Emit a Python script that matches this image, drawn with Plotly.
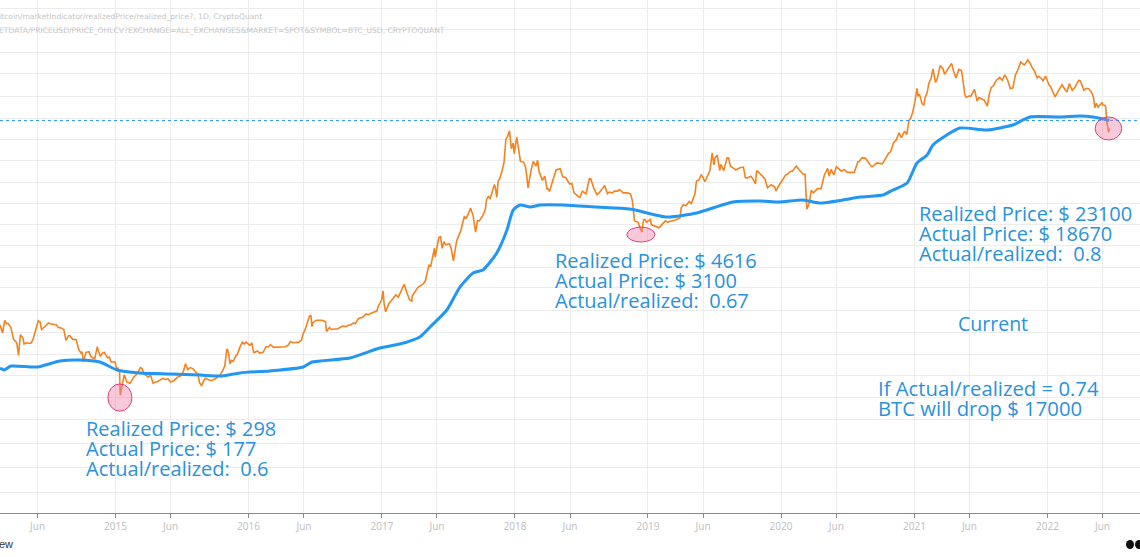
import plotly.graph_objects as go

# ---------------- data ----------------
price_dates = [
    "2014-02-18","2014-02-25","2014-03-03","2014-03-12","2014-03-20","2014-03-27","2014-04-03","2014-04-10",
    "2014-04-15","2014-04-22","2014-05-01","2014-05-10","2014-05-21","2014-05-28","2014-06-03","2014-06-12",
    "2014-06-20","2014-07-01","2014-07-15","2014-07-28","2014-08-05","2014-08-18","2014-08-25","2014-09-05",
    "2014-09-15","2014-09-22","2014-10-01","2014-10-05","2014-10-12","2014-10-20","2014-10-30","2014-11-05",
    "2014-11-12","2014-11-20","2014-12-01","2014-12-10","2014-12-20","2014-12-31",
    "2015-01-05","2015-01-10","2015-01-14","2015-01-18","2015-01-25","2015-02-01","2015-02-10","2015-02-20",
    "2015-03-01","2015-03-10","2015-03-20","2015-04-01","2015-04-14","2015-04-25","2015-05-10","2015-05-25",
    "2015-06-10","2015-06-20","2015-07-01","2015-07-12","2015-07-25","2015-08-10","2015-08-19","2015-08-25",
    "2015-09-05","2015-09-20","2015-10-01","2015-10-15","2015-10-28","2015-11-04","2015-11-11","2015-11-20",
    "2015-12-01","2015-12-15","2015-12-25",
    "2016-01-05","2016-01-15","2016-01-25","2016-02-10","2016-02-25","2016-03-10","2016-03-25","2016-04-10",
    "2016-04-25","2016-05-10","2016-05-25","2016-06-05","2016-06-16","2016-06-25","2016-07-05","2016-07-20",
    "2016-08-02","2016-08-15","2016-09-01","2016-09-15","2016-10-01","2016-10-15","2016-10-28","2016-11-10",
    "2016-11-25","2016-12-10","2016-12-22","2016-12-31",
    "2017-01-04","2017-01-11","2017-01-20","2017-02-01","2017-02-15","2017-02-28","2017-03-10","2017-03-18",
    "2017-03-25","2017-04-10","2017-04-25","2017-05-05","2017-05-15","2017-05-25","2017-05-27","2017-06-06",
    "2017-06-15","2017-06-25","2017-07-05","2017-07-16","2017-07-25","2017-08-05","2017-08-15","2017-08-25",
    "2017-09-01","2017-09-15","2017-09-25","2017-10-05","2017-10-15","2017-10-25","2017-11-05","2017-11-12",
    "2017-11-20","2017-11-29","2017-12-07","2017-12-17","2017-12-22","2017-12-30",
    "2018-01-06","2018-01-16","2018-01-25","2018-02-06","2018-02-14","2018-02-20","2018-03-04","2018-03-17",
    "2018-03-30","2018-04-06","2018-04-24","2018-05-05","2018-05-20","2018-05-31","2018-06-12","2018-06-24",
    "2018-07-05","2018-07-24","2018-08-05","2018-08-14","2018-08-25","2018-09-04","2018-09-12","2018-09-25",
    "2018-10-10","2018-10-25","2018-11-05","2018-11-14","2018-11-19","2018-11-25","2018-12-05","2018-12-15",
    "2018-12-20","2018-12-28",
    "2019-01-08","2019-01-20","2019-01-31","2019-02-08","2019-02-18","2019-03-01","2019-03-15","2019-03-30",
    "2019-04-02","2019-04-15","2019-04-30","2019-05-10","2019-05-14","2019-05-20","2019-05-27","2019-06-06",
    "2019-06-15","2019-06-26","2019-07-01","2019-07-10","2019-07-17","2019-07-28","2019-08-06","2019-08-15",
    "2019-08-28","2019-09-10","2019-09-25","2019-10-10","2019-10-23","2019-10-26","2019-11-08","2019-11-25",
    "2019-12-05","2019-12-18","2019-12-25",
    "2020-01-07","2020-01-18","2020-02-01","2020-02-12","2020-02-25","2020-03-07","2020-03-12","2020-03-18",
    "2020-03-30","2020-04-10","2020-04-29","2020-05-08","2020-05-12","2020-05-25","2020-06-01","2020-06-15",
    "2020-07-01","2020-07-20","2020-07-30","2020-08-10","2020-08-20","2020-09-05","2020-09-20","2020-10-05",
    "2020-10-22","2020-11-05","2020-11-20","2020-11-26","2020-12-05","2020-12-17","2020-12-27",
    "2021-01-08","2021-01-15","2021-01-22","2021-01-30","2021-02-10","2021-02-21","2021-02-28","2021-03-13",
    "2021-03-25","2021-04-13","2021-04-25","2021-05-10","2021-05-19","2021-05-30","2021-06-10","2021-06-22",
    "2021-07-05","2021-07-20","2021-07-31","2021-08-14","2021-08-23","2021-09-06","2021-09-21","2021-10-05",
    "2021-10-20","2021-10-30","2021-11-08","2021-11-20","2021-12-04","2021-12-15","2021-12-27",
    "2022-01-05","2022-01-22","2022-02-10","2022-02-24","2022-03-10","2022-03-28","2022-04-11","2022-04-25",
    "2022-05-05","2022-05-11","2022-05-20","2022-05-31","2022-06-08","2022-06-13","2022-06-18","2022-06-20",
]
price_values = [
    620,535,670,635,590,480,450,360,
    520,490,450,445,490,580,665,570,
    595,640,620,590,585,470,510,480,
    475,400,385,320,380,385,345,340,
    420,355,380,345,320,320,
    275,275,178,210,255,225,220,245,
    260,290,260,245,220,225,240,238,
    230,245,258,310,290,265,225,210,
    240,230,237,255,300,400,310,325,
    365,455,455,
    430,380,390,380,420,415,420,420,
    460,455,470,575,720,640,670,670,
    550,570,575,605,615,640,690,710,
    740,770,860,960,
    1130,780,900,990,1010,1190,1100,960,
    1030,1200,1280,1550,1750,2400,2050,2900,
    2400,2550,2600,1920,2750,3250,4200,4350,
    4900,3200,3900,4300,5700,5800,7400,5900,
    8200,10000,16500,19200,14000,12800,
    17100,11200,11000,7000,9500,11200,11400,8000,
    6800,6600,9600,9800,8400,7500,6400,6000,
    6600,8200,7000,6200,6700,7300,6300,6400,
    6600,6400,6400,6300,5600,3900,3800,3200,
    4000,3800,
    4000,3550,3450,3650,3900,3850,3950,4100,
    4900,5100,5300,6300,7900,8000,8800,7800,
    8800,13000,10500,12500,9500,9500,11900,10300,
    9700,10000,8400,8600,7500,9500,8800,7000,
    7400,6600,7200,
    8100,8900,9400,10300,9300,8900,4800,5300,
    6400,6900,8800,9900,8600,8800,10200,9400,
    9200,9200,11100,11900,11800,10200,10900,10700,
    12900,15600,18600,17000,19100,23000,26500,
    40700,36800,31000,34300,44800,57500,45200,61200,
    52300,63500,49000,55800,37000,35600,37400,32500,
    33800,29800,41500,47100,49500,51800,40600,51500,
    65000,61800,67500,59000,49000,48800,50700,
    43500,35000,43600,38300,39400,47100,39500,40400,
    36500,28900,29200,31700,30200,22500,18670,20000,
]

# additional intermediate daily closes (read between the points above)
price_dates_extra = [
    "2014-03-08","2014-04-05","2014-04-25","2014-05-15","2014-06-08","2014-07-05","2014-07-22","2014-08-12",
    "2014-08-29","2014-09-10","2014-09-28","2014-10-25","2014-11-15","2014-11-26","2014-12-15","2014-12-25",
    "2015-01-08","2015-01-12","2015-01-21","2015-01-29","2015-02-15","2015-03-05","2015-03-15","2015-04-07",
    "2015-04-20","2015-05-18","2015-06-01","2015-06-28","2015-07-06","2015-07-18","2015-08-01","2015-08-15",
    "2015-08-31","2015-09-12","2015-10-08","2015-10-22","2015-11-02","2015-11-07","2015-11-15","2015-11-28",
    "2015-12-08","2015-12-20",
    "2016-01-10","2016-01-18","2016-02-01","2016-02-18","2016-03-01","2016-03-17","2016-04-01","2016-04-18",
    "2016-05-01","2016-05-18","2016-05-30","2016-06-12","2016-06-20","2016-06-23","2016-07-12","2016-07-30",
    "2016-08-10","2016-08-25","2016-09-25","2016-10-08","2016-10-20","2016-11-05","2016-11-18","2016-12-02",
    "2016-12-18",
    "2017-01-07","2017-02-08","2017-03-03","2017-03-24","2017-04-30","2017-05-10","2017-05-21","2017-06-11",
    "2017-06-20","2017-07-10","2017-08-20","2017-09-05","2017-09-08","2017-09-20","2017-10-12","2017-10-20",
    "2017-11-01","2017-11-08","2017-11-16","2017-11-26","2017-12-02","2017-12-12","2017-12-27",
    "2018-01-02","2018-01-10","2018-01-30","2018-02-02","2018-02-28","2018-03-08","2018-03-24","2018-04-01",
    "2018-04-15","2018-05-12","2018-06-06","2018-06-28","2018-07-15","2018-07-28","2018-08-20","2018-09-17",
    "2018-10-01","2018-10-15","2018-12-10","2018-12-24",
    "2019-01-10","2019-02-25","2019-03-22","2019-04-08","2019-04-24","2019-05-30","2019-06-20","2019-06-30",
    "2019-07-04","2019-07-20","2019-08-10","2019-08-30","2019-09-20","2019-09-30","2019-10-15","2019-11-01",
    "2019-11-18","2019-12-15",
    "2020-01-14","2020-01-28","2020-02-20","2020-03-02","2020-03-24","2020-04-20","2020-05-17","2020-06-22",
    "2020-07-10","2020-08-02","2020-08-15","2020-09-10","2020-10-10","2020-10-28","2020-11-12","2020-12-11",
    "2020-12-21",
    "2021-01-03","2021-01-11","2021-01-27","2021-02-05","2021-02-16","2021-03-05","2021-03-20","2021-04-05",
    "2021-04-18","2021-05-03","2021-05-13","2021-05-23","2021-06-05","2021-06-15","2021-06-27","2021-07-12",
    "2021-07-26","2021-08-06","2021-08-30","2021-09-14","2021-09-28","2021-10-10","2021-10-16","2021-10-25",
    "2021-11-15","2021-11-27","2021-12-08","2021-12-20",
    "2022-01-10","2022-01-28","2022-02-05","2022-02-18","2022-03-02","2022-03-18","2022-04-02","2022-04-18",
    "2022-05-01","2022-05-08","2022-05-15","2022-06-02","2022-06-10",
]
price_values_extra = [
    630,450,440,450,650,630,620,570,
    510,480,375,355,390,375,350,320,
    290,270,225,235,235,270,285,255,
    225,235,225,250,270,280,285,260,
    230,235,245,275,400,375,330,360,
    415,440,
    450,380,375,420,435,415,415,430,
    450,455,530,670,735,600,670,655,
    590,575,600,620,630,705,750,760,
    790,
    900,1050,1270,940,1350,1780,2050,2950,
    2700,2400,4100,4600,4300,3900,4800,6000,
    6700,7100,7900,9300,11000,17500,15500,
    14800,14500,10100,8800,10300,9400,8600,6900,
    8000,8500,7600,5900,6300,8200,6400,6500,
    6600,6800,3450,4000,
    3650,3800,4000,5200,5500,8600,9500,11000,
    11900,10600,11900,9600,10100,8300,8300,9200,
    8200,7100,
    8800,9400,9600,8900,6700,6900,9700,9700,
    9200,11100,11800,10300,11300,13300,16300,18000,
    23800,
    32800,35500,30400,38000,49000,48800,58000,58700,
    56000,57000,49700,34700,35500,40000,34700,33000,
    37300,42800,47000,47100,41000,55000,61600,63000,
    63500,54800,50500,46700,
    41800,37700,41400,40000,44400,41800,46300,40800,
    38500,34000,31300,30400,29100,
]

realized_dates = [
    "2014-02-18","2014-03-01","2014-03-20","2014-06-01","2014-08-01","2014-09-25","2014-11-19","2015-01-05",
    "2015-03-08","2015-06-01","2015-08-20","2015-10-20","2015-12-08","2016-02-28","2016-05-30","2016-06-23",
    "2016-10-05","2016-12-26","2017-02-19","2017-04-15","2017-05-13","2017-06-28","2017-08-03","2017-09-08",
    "2017-10-05","2017-11-12","2017-12-10","2017-12-27","2018-01-15","2018-02-12","2018-03-11","2018-05-13",
    "2018-08-14","2018-11-12","2019-02-22","2019-05-15","2019-06-28","2019-08-22","2019-11-04","2019-12-28",
    "2020-03-01","2020-04-17","2020-06-19","2020-08-05","2020-10-07","2020-11-03","2020-12-12","2021-01-08",
    "2021-02-05","2021-02-21","2021-03-31","2021-05-06","2021-07-19","2021-09-28","2021-11-14","2022-02-04",
    "2022-03-31","2022-05-06","2022-06-20",
]
realized_values = [
    288,278,298,293,326,332,320,278,
    264,259,254,250,264,273,293,320,
    344,410,440,499,595,804,1208,1549,
    1634,2207,3317,4727,5168,4986,5168,5168,
    4986,4813,4177,4483,4898,5447,5546,5447,
    5646,5353,5646,5953,6166,6736,7628,10868,
    12525,14947,17849,20200,19500,21310,24550,24550,
    24980,24550,23100,
]

current_realized = 23100

x_tick_dates = [
    "2014-06-01","2015-01-01","2015-06-01","2016-01-01","2016-06-01","2017-01-01","2017-06-01",
    "2018-01-01","2018-06-01","2019-01-01","2019-06-01","2020-01-01","2020-06-01","2021-01-01",
    "2021-06-01","2022-01-01","2022-06-01",
]
x_tick_labels = [
    "Jun","2015","Jun","2016","Jun","2017","Jun","2018","Jun","2019","Jun","2020","Jun","2021",
    "Jun","2022","Jun",
]
grid_prices = [169000,114700,77600,52600,35000,24100,16350,11270,7760,5350,3690,2500,
               1720,1190,804,544,369,250,170,115,75,49,32]

# highlighted lows: (date start, date end, price low, price high)
highlight_boxes = [
    ("2014-12-11","2015-02-15",134,217),
    ("2018-11-04","2019-01-20",2683,3490),
    ("2022-05-12","2022-07-24",16350,24550),
]

# ---------------- build series ----------------
pairs = sorted(zip(price_dates + price_dates_extra, price_values + price_values_extra))
px_dates = [d for d, _ in pairs]
px_vals = [v for _, v in pairs]

# ---------------- figure ----------------
W, H = 1140, 557
PLOT_H = 513
BLUE_TXT = "#2a92dc"
FONT = "Open Sans"

fig = go.Figure()
fig.add_trace(go.Scatter(x=px_dates, y=px_vals, mode="lines",
                         line=dict(color="#F5821F", width=1.6), hoverinfo="skip"))
fig.add_trace(go.Scatter(x=realized_dates, y=realized_values, mode="lines",
                         line=dict(color="#2196F3", width=3, shape="spline", smoothing=0.6),
                         hoverinfo="skip"))

# dotted current realized price line
fig.add_shape(type="line", xref="paper", x0=0, x1=1, yref="y",
              y0=current_realized, y1=current_realized,
              line=dict(color="#2196F3", width=1, dash="dot"), layer="above")

for d0, d1, p0, p1 in highlight_boxes:
    fig.add_shape(type="circle", xref="x", yref="y", x0=d0, x1=d1, y0=p0, y1=p1,
                  fillcolor="rgba(240,120,165,0.40)", line=dict(color="rgba(215,50,110,0.9)", width=1),
                  layer="above")

def px_to_paper(xp, yp):
    return xp / W, 1 - yp / PLOT_H

def add_text(text, xp, yp, size=20, color=BLUE_TXT, anchor="left", family=FONT):
    xx, yy = px_to_paper(xp, yp)
    fig.add_annotation(text=text, x=xx, y=yy, xref="paper", yref="paper",
                       xanchor=anchor, yanchor="middle", showarrow=False,
                       font=dict(size=size, color=color, family=family))

blocks = [
    (84, 428, 20, ["Realized Price: $ 298", "Actual Price: $ 177", "Actual/realized:  0.6"]),
    (553, 260, 20, ["Realized Price: $ 4616", "Actual Price: $ 3100", "Actual/realized:  0.67"]),
    (917, 213, 20, ["Realized Price: $ 23100", "Actual Price: $ 18670", "Actual/realized:  0.8"]),
    (876, 388, 20.3, ["If Actual/realized = 0.74", "BTC will drop $ 17000"]),
]
for xp, yp, fs, lines in blocks:
    for i, t in enumerate(lines):
        add_text(t, xp, yp + i * 20.3, size=fs)
add_text("Current", 956, 323, size=19.5)

# watermark / source lines
add_text("itcoin/marketIndicator/realizedPrice/realized_price?, 1D, CryptoQuant", -3, 16,
         size=7.6, color="#c6c6c6", family="DejaVu Sans")
add_text("ETDATA/PRICEUSD/PRICE_OHLCV?EXCHANGE=ALL_EXCHANGES&MARKET=SPOT&SYMBOL=BTC_USD, CRYPTOQUANT",
         -3, 30, size=7.6, color="#c6c6c6", family="DejaVu Sans")
add_text("ew", -3, 544, size=11, color="#333333", family="Liberation Sans")

# partial TradingView logo marks at the bottom-right corner
for x0, x1 in [(1126, 1134), (1135, 1143)]:
    fig.add_shape(type="circle", xref="paper", yref="paper",
                  x0=x0 / W, x1=x1 / W, y0=1 - 549 / PLOT_H, y1=1 - 540 / PLOT_H,
                  fillcolor="#111111", line=dict(width=0))

fig.update_layout(
    width=W, height=H,
    margin=dict(l=0, r=0, t=0, b=H - PLOT_H, autoexpand=False),
    plot_bgcolor="white", paper_bgcolor="white",
    showlegend=False,
    xaxis=dict(type="date", range=["2014-02-18", "2022-09-12"], automargin=False,
               tickmode="array", tickvals=x_tick_dates, ticktext=x_tick_labels,
               showgrid=True, gridcolor="#ececec", gridwidth=1,
               ticks="outside", ticklen=4, tickcolor="#8a8a8a",
               showline=True, linecolor="#8a8a8a", linewidth=1,
               tickfont=dict(size=10, color="#c2c2c2", family="Noto Sans"),
               zeroline=False, fixedrange=True),
    yaxis=dict(type="log", range=[1.344, 5.29], automargin=False,
               tickmode="array", tickvals=grid_prices, showticklabels=False,
               showgrid=True, gridcolor="#ececec", gridwidth=1,
               zeroline=False, ticks="", showline=False, fixedrange=True),
)

fig.write_html(
    "out.html",
    config={"displayModeBar": False},
    post_script="document.body.style.margin='0';document.body.style.overflow='hidden';",
)
